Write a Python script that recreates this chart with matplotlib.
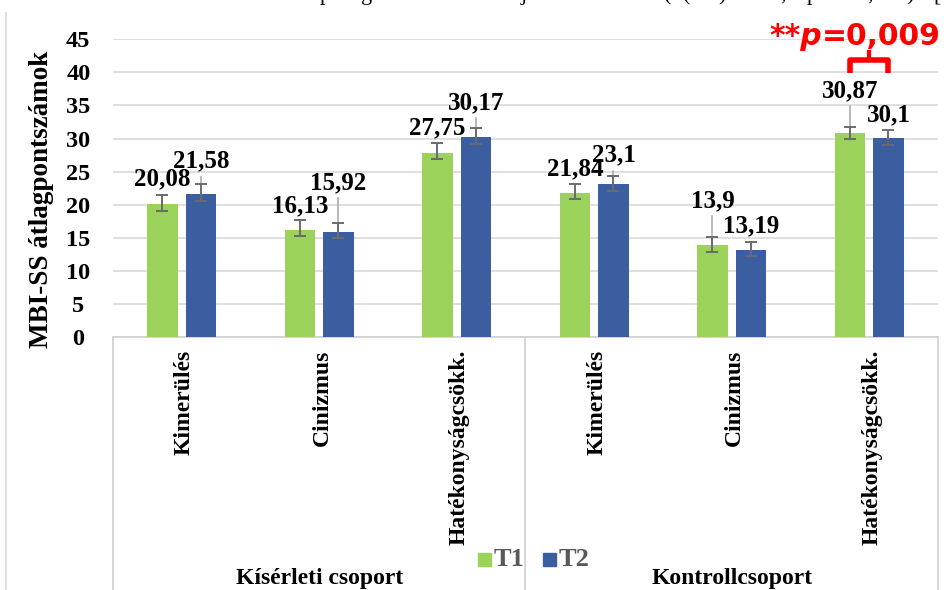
import matplotlib
matplotlib.use("Agg")
import matplotlib.pyplot as plt
from matplotlib.lines import Line2D
from matplotlib.patches import Rectangle

# ---- data -------------------------------------------------------------
categories = ["Kimerülés", "Cinizmus", "Hatékonyságcsökk.",
              "Kimerülés", "Cinizmus", "Hatékonyságcsökk."]
groups = ["Kísérleti csoport", "Kontrollcsoport"]
series_names = ["T1", "T2"]

t1_values = [20.08, 16.13, 27.75, 21.84, 13.9, 30.87]
t2_values = [21.58, 15.92, 30.17, 23.1, 13.19, 30.1]

t1_err_low = [1.01, 0.91, 0.91, 0.96, 1.01, 1.01]
t1_err_high = [1.41, 1.62, 1.62, 1.31, 1.16, 0.81]
t2_err_low = [1.01, 0.96, 0.96, 0.96, 1.01, 1.01]
t2_err_high = [1.52, 1.36, 1.41, 1.31, 1.11, 1.21]

y_ticks = [0, 5, 10, 15, 20, 25, 30, 35, 40, 45]
y_title = "MBI-SS átlagpontszámok"
p_star, p_value = "**p", "=0,009"

# label placement (centre height of each value label) and leader lines
t1_label_y = [24.1, 20.0, 31.8, 25.65, 20.8, 37.5]
t2_label_y = [26.8, 23.5, 35.6, 27.7, 17.0, 33.8]
t1_leader = [False, False, False, False, True, True]
t2_leader = [True, True, True, True, False, False]

# ---- style ------------------------------------------------------------
W, H = 945, 590
GREEN = "#9BD35A"
BLUE = "#3A5EA0"
GRID = "#d9d9d9"
AXIS = "#d0d0d0"
ERR = "#6b6b6b"
LEAD = "#a6a6a6"
SERIF = "Liberation Serif"

fx = lambda x: x / W
fy = lambda y: 1 - y / H

fig = plt.figure(figsize=(W / 100, H / 100), dpi=100)
ax_left, ax_right, ax_top, ax_bottom = 113, 938, 39.3, 337
ax = fig.add_axes([fx(ax_left), fy(ax_bottom),
                   (ax_right - ax_left) / W, (ax_bottom - ax_top) / H])
ax_h_px = ax_bottom - ax_top

n = len(categories)
xs = list(range(n))
off, bw = 0.14, 0.225

ax.set_xlim(-0.5, n - 0.5)
ax.set_ylim(0, 45)

x1 = [x - off for x in xs]
x2 = [x + off for x in xs]
ax.bar(x1, t1_values, width=bw, color=GREEN, zorder=2)
ax.bar(x2, t2_values, width=bw, color=BLUE, zorder=2)

# leader lines from the value labels down to the bars
for xpos, v, ly, lead in zip(x1 + x2, t1_values + t2_values,
                             t1_label_y + t2_label_y, t1_leader + t2_leader):
    if lead:
        ax.plot([xpos, xpos], [ly - 2.55, v], color=LEAD, lw=1.1, zorder=3)

ax.errorbar(x1, t1_values, yerr=[t1_err_low, t1_err_high], fmt="none",
            ecolor=ERR, elinewidth=1.4, capsize=4.3, capthick=1.4, zorder=4)
ax.errorbar(x2, t2_values, yerr=[t2_err_low, t2_err_high], fmt="none",
            ecolor=ERR, elinewidth=1.4, capsize=4.3, capthick=1.4, zorder=4)

# value labels
def fmt(v):
    return f"{v:g}".replace(".", ",")

for xpos, v, ly in zip(x1 + x2, t1_values + t2_values, t1_label_y + t2_label_y):
    ax.text(xpos, ly - 1.2, fmt(v), ha="center", va="baseline",
            fontfamily=SERIF, fontweight="bold", fontsize=18, color="black",
            zorder=5)

# y axis
ax.set_yticks(y_ticks)
ax.set_yticklabels([str(t) for t in y_ticks], fontfamily=SERIF,
                   fontweight="bold", fontsize=17.5)
for lbl in ax.get_yticklabels():
    lbl.set_horizontalalignment("center")
ax.tick_params(axis="y", length=0, pad=25)
ax.tick_params(axis="x", length=0, labelbottom=False)
ax.grid(axis="y", color=GRID, lw=1.2)
ax.set_axisbelow(True)
for s in ax.spines.values():
    s.set_visible(False)

fig.text(fx(42), fy(199), y_title, rotation=90, ha="center", va="center",
         fontfamily=SERIF, fontweight="bold", fontsize=19.5)

# multi-level category axis
tr = ax.get_xaxis_transform()
bottom_frac = -(H - ax_bottom) / ax_h_px
ax.plot([-0.5, n - 0.5], [0, 0], transform=tr, color=AXIS, lw=1.2,
        clip_on=False, zorder=1)
for xb in (-0.5, 2.5, n - 0.5):
    ax.plot([xb, xb], [0, bottom_frac], transform=tr, color=AXIS, lw=1.2,
            clip_on=False)

for i, cat in enumerate(categories):
    ax.text(i + 0.02, -(350 - ax_bottom) / ax_h_px, cat, transform=tr,
            rotation=90, ha="center", va="top", fontfamily=SERIF,
            fontweight="bold", fontsize=17)

for gi, g in enumerate(groups):
    ax.text(1 + 3 * gi, -(584 - ax_bottom) / ax_h_px, g, transform=tr,
            ha="center", va="baseline", fontfamily=SERIF, fontweight="bold",
            fontsize=17)

# legend
for (sx, tx), name, col in zip([(478, 494), (543, 559)], series_names,
                               [GREEN, BLUE]):
    fig.patches.append(Rectangle((fx(sx), fy(566)), 13 / W, 13 / H,
                                 transform=fig.transFigure, color=col))
    fig.text(fx(tx), fy(559), name, ha="left", va="center", fontfamily=SERIF,
             fontweight="bold", fontsize=19, color="#595959")

# significance bracket between the control-group T1/T2 bars
bx1, bx2 = 5 - off, 5 + off
ax.plot([bx1, bx1, bx2, bx2], [39.9, 41.9, 41.9, 39.9], color="#FF0000",
        lw=4.0, solid_joinstyle="round", solid_capstyle="butt",
        clip_on=False, zorder=6)
ax.plot([5, 5], [41.9, 43.1], color="#FF0000", lw=3.0, clip_on=False,
        zorder=6)
fig.text(fx(822), fy(45), p_star, ha="right", va="baseline",
         fontfamily="DejaVu Sans", fontweight="bold", fontstyle="oblique",
         fontsize=21.5, color="#FF0000")
fig.text(fx(822), fy(45), p_value, ha="left", va="baseline",
         fontfamily="DejaVu Sans", fontweight="bold", fontsize=21.5,
         color="#FF0000")

# caption line above the chart, only its descenders fall inside the frame
for ch, px in [("p", 325), ("g", 367), ("j", 524), ("(", 668), ("(", 687),
               (")", 722), (",", 783), ("p", 812), (",", 870), (")", 910),
               ("[", 937)]:
    fig.text(fx(px), 1.0, ch, ha="center", va="baseline", fontfamily=SERIF,
             fontsize=16, color="black")

# chart frame edge
fig.add_artist(Line2D([fx(6), fx(6)], [0, fy(13)], color=GRID, lw=1.2))

fig.savefig("out.png", dpi=100)
